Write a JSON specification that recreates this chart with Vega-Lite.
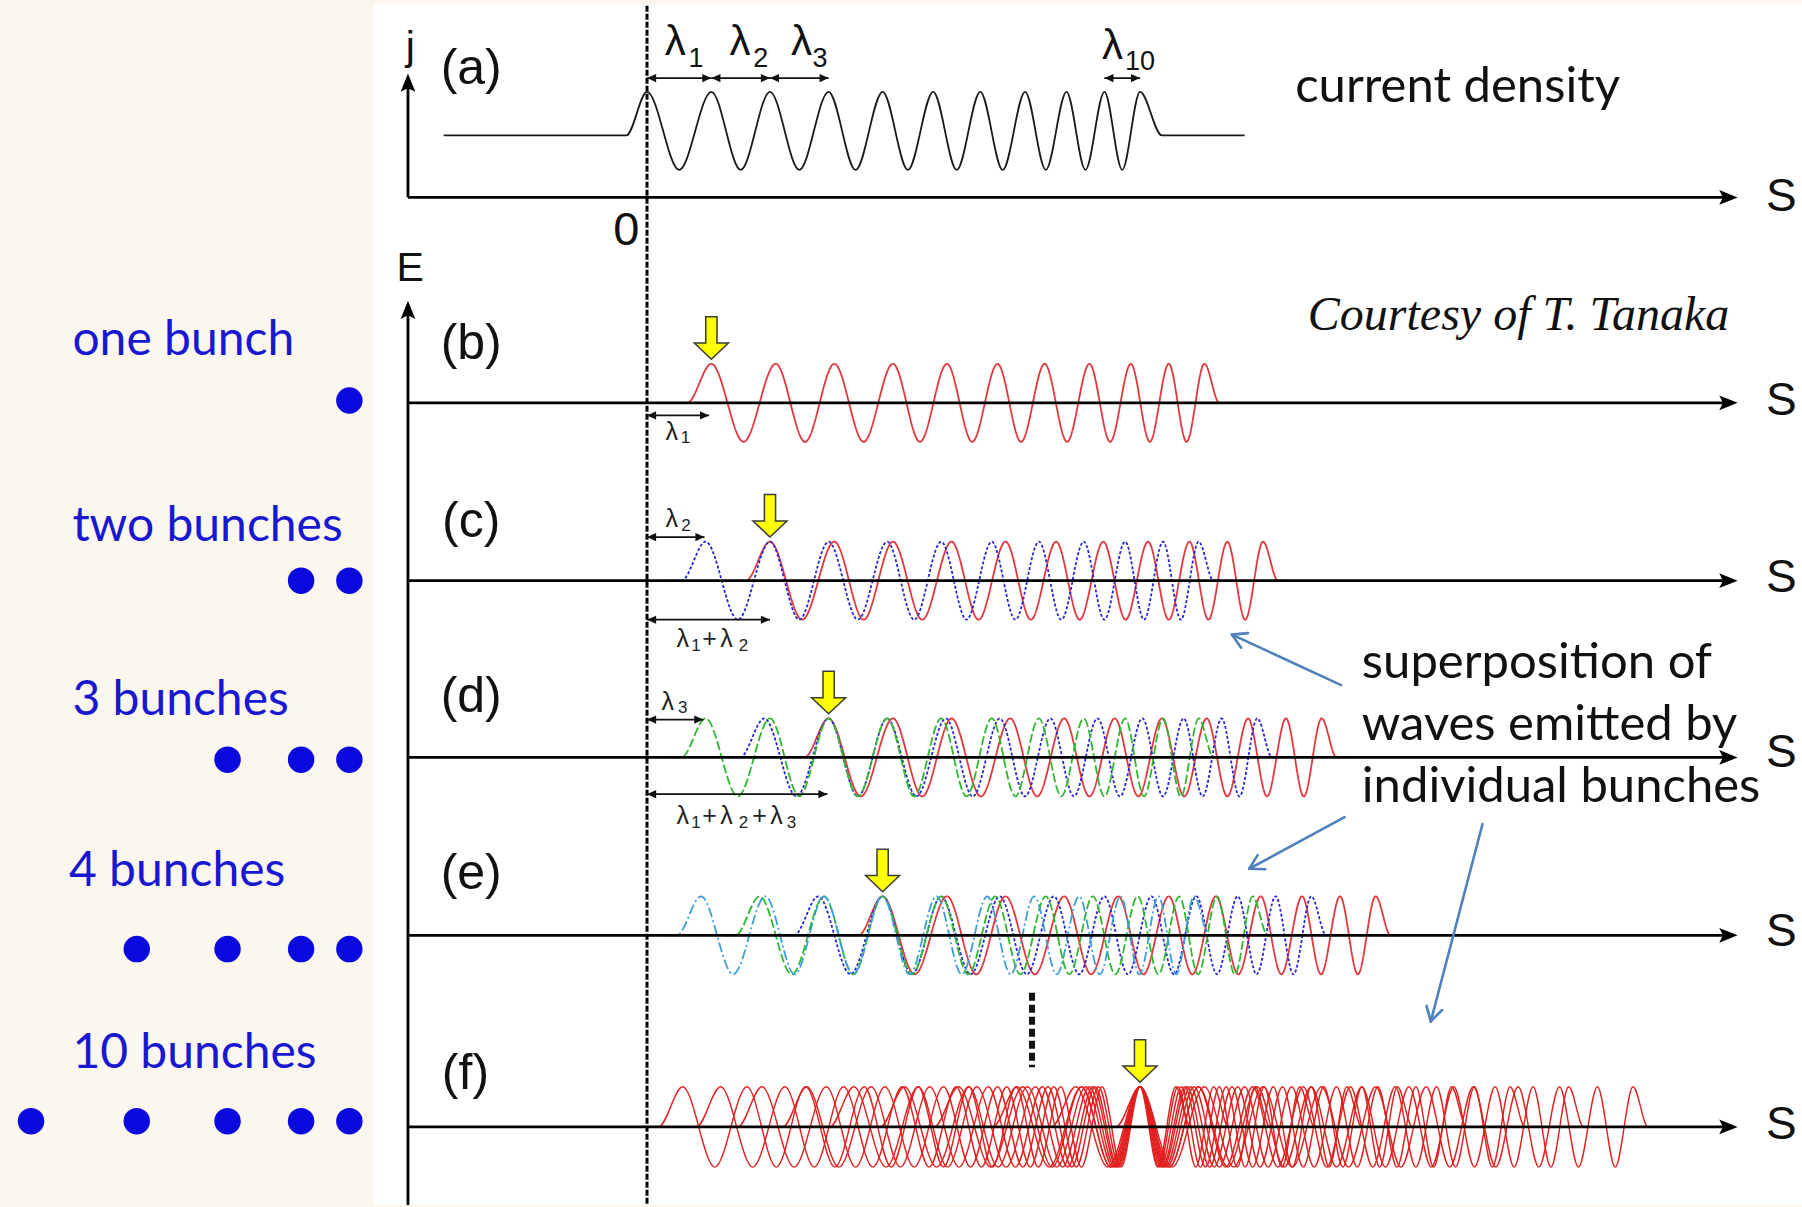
{
"$schema": "https://vega.github.io/schema/vega-lite/v6.json",
"width": 1802, "height": 1207,
"autosize": {"type": "fit", "contains": "padding"},
"padding": 0,
"background": "#fbf7ef",
"config": {"view": {"stroke": null}},
"datasets": {
"bg": [{"s": 325, "s2": 1568, "y": 4, "y2": 1050}],
"dash0": [{"s": 563, "s2": 563, "y": 5, "y2": 1050}],
"cur": [{"s":386,"y":118},{"s":545,"y":118},{"s":563,"y":80},{"s":591,"y":148},{"s":619,"y":80},{"s":644.5,"y":148},{"s":670,"y":80},{"s":695.5,"y":148},{"s":721,"y":80},{"s":744.5,"y":148},{"s":768,"y":80},{"s":790,"y":148},{"s":812,"y":80},{"s":832.5,"y":148},{"s":853,"y":80},{"s":872.5,"y":148},{"s":892,"y":80},{"s":910,"y":148},{"s":928,"y":80},{"s":944.5,"y":148},{"s":961,"y":80},{"s":976.5,"y":148},{"s":992,"y":80},{"s":1011,"y":118},{"s":1083,"y":118}],
"waves": [
{"w":"b1","s":589,"y":351},{"w":"b1","s":598,"y":351},{"w":"b1","s":619,"y":317},{"w":"b1","s":647,"y":385},{"w":"b1","s":675,"y":317},{"w":"b1","s":700.5,"y":385},{"w":"b1","s":726,"y":317},{"w":"b1","s":751.5,"y":385},{"w":"b1","s":777,"y":317},{"w":"b1","s":800.5,"y":385},{"w":"b1","s":824,"y":317},{"w":"b1","s":846,"y":385},{"w":"b1","s":868,"y":317},{"w":"b1","s":888.5,"y":385},{"w":"b1","s":909,"y":317},{"w":"b1","s":928.5,"y":385},{"w":"b1","s":948,"y":317},{"w":"b1","s":966,"y":385},{"w":"b1","s":984,"y":317},{"w":"b1","s":1000.5,"y":385},{"w":"b1","s":1017,"y":317},{"w":"b1","s":1032.5,"y":385},{"w":"b1","s":1048,"y":317},{"w":"b1","s":1061,"y":351},{"w":"b1","s":1070,"y":351},
{"w":"c1","s":640,"y":506},{"w":"c1","s":649,"y":506},{"w":"c1","s":670,"y":472},{"w":"c1","s":698,"y":540},{"w":"c1","s":726,"y":472},{"w":"c1","s":751.5,"y":540},{"w":"c1","s":777,"y":472},{"w":"c1","s":802.5,"y":540},{"w":"c1","s":828,"y":472},{"w":"c1","s":851.5,"y":540},{"w":"c1","s":875,"y":472},{"w":"c1","s":897,"y":540},{"w":"c1","s":919,"y":472},{"w":"c1","s":939.5,"y":540},{"w":"c1","s":960,"y":472},{"w":"c1","s":979.5,"y":540},{"w":"c1","s":999,"y":472},{"w":"c1","s":1017,"y":540},{"w":"c1","s":1035,"y":472},{"w":"c1","s":1051.5,"y":540},{"w":"c1","s":1068,"y":472},{"w":"c1","s":1083.5,"y":540},{"w":"c1","s":1099,"y":472},{"w":"c1","s":1112,"y":506},{"w":"c1","s":1121,"y":506},
{"w":"c2","s":584,"y":506},{"w":"c2","s":593,"y":506},{"w":"c2","s":614,"y":472},{"w":"c2","s":642,"y":540},{"w":"c2","s":670,"y":472},{"w":"c2","s":695.5,"y":540},{"w":"c2","s":721,"y":472},{"w":"c2","s":746.5,"y":540},{"w":"c2","s":772,"y":472},{"w":"c2","s":795.5,"y":540},{"w":"c2","s":819,"y":472},{"w":"c2","s":841,"y":540},{"w":"c2","s":863,"y":472},{"w":"c2","s":883.5,"y":540},{"w":"c2","s":904,"y":472},{"w":"c2","s":923.5,"y":540},{"w":"c2","s":943,"y":472},{"w":"c2","s":961,"y":540},{"w":"c2","s":979,"y":472},{"w":"c2","s":995.5,"y":540},{"w":"c2","s":1012,"y":472},{"w":"c2","s":1027.5,"y":540},{"w":"c2","s":1043,"y":472},{"w":"c2","s":1056,"y":506},{"w":"c2","s":1065,"y":506},
{"w":"d1","s":691,"y":660},{"w":"d1","s":700,"y":660},{"w":"d1","s":721,"y":626},{"w":"d1","s":749,"y":694},{"w":"d1","s":777,"y":626},{"w":"d1","s":802.5,"y":694},{"w":"d1","s":828,"y":626},{"w":"d1","s":853.5,"y":694},{"w":"d1","s":879,"y":626},{"w":"d1","s":902.5,"y":694},{"w":"d1","s":926,"y":626},{"w":"d1","s":948,"y":694},{"w":"d1","s":970,"y":626},{"w":"d1","s":990.5,"y":694},{"w":"d1","s":1011,"y":626},{"w":"d1","s":1030.5,"y":694},{"w":"d1","s":1050,"y":626},{"w":"d1","s":1068,"y":694},{"w":"d1","s":1086,"y":626},{"w":"d1","s":1102.5,"y":694},{"w":"d1","s":1119,"y":626},{"w":"d1","s":1134.5,"y":694},{"w":"d1","s":1150,"y":626},{"w":"d1","s":1163,"y":660},{"w":"d1","s":1172,"y":660},
{"w":"d2","s":635,"y":660},{"w":"d2","s":644,"y":660},{"w":"d2","s":665,"y":626},{"w":"d2","s":693,"y":694},{"w":"d2","s":721,"y":626},{"w":"d2","s":746.5,"y":694},{"w":"d2","s":772,"y":626},{"w":"d2","s":797.5,"y":694},{"w":"d2","s":823,"y":626},{"w":"d2","s":846.5,"y":694},{"w":"d2","s":870,"y":626},{"w":"d2","s":892,"y":694},{"w":"d2","s":914,"y":626},{"w":"d2","s":934.5,"y":694},{"w":"d2","s":955,"y":626},{"w":"d2","s":974.5,"y":694},{"w":"d2","s":994,"y":626},{"w":"d2","s":1012,"y":694},{"w":"d2","s":1030,"y":626},{"w":"d2","s":1046.5,"y":694},{"w":"d2","s":1063,"y":626},{"w":"d2","s":1078.5,"y":694},{"w":"d2","s":1094,"y":626},{"w":"d2","s":1107,"y":660},{"w":"d2","s":1116,"y":660},
{"w":"d3","s":584,"y":660},{"w":"d3","s":593,"y":660},{"w":"d3","s":614,"y":626},{"w":"d3","s":642,"y":694},{"w":"d3","s":670,"y":626},{"w":"d3","s":695.5,"y":694},{"w":"d3","s":721,"y":626},{"w":"d3","s":746.5,"y":694},{"w":"d3","s":772,"y":626},{"w":"d3","s":795.5,"y":694},{"w":"d3","s":819,"y":626},{"w":"d3","s":841,"y":694},{"w":"d3","s":863,"y":626},{"w":"d3","s":883.5,"y":694},{"w":"d3","s":904,"y":626},{"w":"d3","s":923.5,"y":694},{"w":"d3","s":943,"y":626},{"w":"d3","s":961,"y":694},{"w":"d3","s":979,"y":626},{"w":"d3","s":995.5,"y":694},{"w":"d3","s":1012,"y":626},{"w":"d3","s":1027.5,"y":694},{"w":"d3","s":1043,"y":626},{"w":"d3","s":1056,"y":660},{"w":"d3","s":1065,"y":660},
{"w":"e1","s":738,"y":815},{"w":"e1","s":747,"y":815},{"w":"e1","s":768,"y":781},{"w":"e1","s":796,"y":849},{"w":"e1","s":824,"y":781},{"w":"e1","s":849.5,"y":849},{"w":"e1","s":875,"y":781},{"w":"e1","s":900.5,"y":849},{"w":"e1","s":926,"y":781},{"w":"e1","s":949.5,"y":849},{"w":"e1","s":973,"y":781},{"w":"e1","s":995,"y":849},{"w":"e1","s":1017,"y":781},{"w":"e1","s":1037.5,"y":849},{"w":"e1","s":1058,"y":781},{"w":"e1","s":1077.5,"y":849},{"w":"e1","s":1097,"y":781},{"w":"e1","s":1115,"y":849},{"w":"e1","s":1133,"y":781},{"w":"e1","s":1149.5,"y":849},{"w":"e1","s":1166,"y":781},{"w":"e1","s":1181.5,"y":849},{"w":"e1","s":1197,"y":781},{"w":"e1","s":1210,"y":815},{"w":"e1","s":1219,"y":815},
{"w":"e2","s":682,"y":815},{"w":"e2","s":691,"y":815},{"w":"e2","s":712,"y":781},{"w":"e2","s":740,"y":849},{"w":"e2","s":768,"y":781},{"w":"e2","s":793.5,"y":849},{"w":"e2","s":819,"y":781},{"w":"e2","s":844.5,"y":849},{"w":"e2","s":870,"y":781},{"w":"e2","s":893.5,"y":849},{"w":"e2","s":917,"y":781},{"w":"e2","s":939,"y":849},{"w":"e2","s":961,"y":781},{"w":"e2","s":981.5,"y":849},{"w":"e2","s":1002,"y":781},{"w":"e2","s":1021.5,"y":849},{"w":"e2","s":1041,"y":781},{"w":"e2","s":1059,"y":849},{"w":"e2","s":1077,"y":781},{"w":"e2","s":1093.5,"y":849},{"w":"e2","s":1110,"y":781},{"w":"e2","s":1125.5,"y":849},{"w":"e2","s":1141,"y":781},{"w":"e2","s":1154,"y":815},{"w":"e2","s":1163,"y":815},
{"w":"e3","s":631,"y":815},{"w":"e3","s":640,"y":815},{"w":"e3","s":661,"y":781},{"w":"e3","s":689,"y":849},{"w":"e3","s":717,"y":781},{"w":"e3","s":742.5,"y":849},{"w":"e3","s":768,"y":781},{"w":"e3","s":793.5,"y":849},{"w":"e3","s":819,"y":781},{"w":"e3","s":842.5,"y":849},{"w":"e3","s":866,"y":781},{"w":"e3","s":888,"y":849},{"w":"e3","s":910,"y":781},{"w":"e3","s":930.5,"y":849},{"w":"e3","s":951,"y":781},{"w":"e3","s":970.5,"y":849},{"w":"e3","s":990,"y":781},{"w":"e3","s":1008,"y":849},{"w":"e3","s":1026,"y":781},{"w":"e3","s":1042.5,"y":849},{"w":"e3","s":1059,"y":781},{"w":"e3","s":1074.5,"y":849},{"w":"e3","s":1090,"y":781},{"w":"e3","s":1103,"y":815},{"w":"e3","s":1112,"y":815},
{"w":"e4","s":580,"y":815},{"w":"e4","s":589,"y":815},{"w":"e4","s":610,"y":781},{"w":"e4","s":638,"y":849},{"w":"e4","s":666,"y":781},{"w":"e4","s":691.5,"y":849},{"w":"e4","s":717,"y":781},{"w":"e4","s":742.5,"y":849},{"w":"e4","s":768,"y":781},{"w":"e4","s":791.5,"y":849},{"w":"e4","s":815,"y":781},{"w":"e4","s":837,"y":849},{"w":"e4","s":859,"y":781},{"w":"e4","s":879.5,"y":849},{"w":"e4","s":900,"y":781},{"w":"e4","s":919.5,"y":849},{"w":"e4","s":939,"y":781},{"w":"e4","s":957,"y":849},{"w":"e4","s":975,"y":781},{"w":"e4","s":991.5,"y":849},{"w":"e4","s":1008,"y":781},{"w":"e4","s":1023.5,"y":849},{"w":"e4","s":1039,"y":781},{"w":"e4","s":1052,"y":815},{"w":"e4","s":1061,"y":815}
],
"wf": [
{"w":"f0","s":962,"y":982},{"w":"f0","s":971,"y":982},{"w":"f0","s":992,"y":947},{"w":"f0","s":1020,"y":1017},{"w":"f0","s":1048,"y":947},{"w":"f0","s":1073.5,"y":1017},{"w":"f0","s":1099,"y":947},{"w":"f0","s":1124.5,"y":1017},{"w":"f0","s":1150,"y":947},{"w":"f0","s":1173.5,"y":1017},{"w":"f0","s":1197,"y":947},{"w":"f0","s":1219,"y":1017},{"w":"f0","s":1241,"y":947},{"w":"f0","s":1261.5,"y":1017},{"w":"f0","s":1282,"y":947},{"w":"f0","s":1301.5,"y":1017},{"w":"f0","s":1321,"y":947},{"w":"f0","s":1339,"y":1017},{"w":"f0","s":1357,"y":947},{"w":"f0","s":1373.5,"y":1017},{"w":"f0","s":1390,"y":947},{"w":"f0","s":1405.5,"y":1017},{"w":"f0","s":1421,"y":947},{"w":"f0","s":1434,"y":982},{"w":"f0","s":1443,"y":982},
{"w":"f1","s":906,"y":982},{"w":"f1","s":915,"y":982},{"w":"f1","s":936,"y":947},{"w":"f1","s":964,"y":1017},{"w":"f1","s":992,"y":947},{"w":"f1","s":1017.5,"y":1017},{"w":"f1","s":1043,"y":947},{"w":"f1","s":1068.5,"y":1017},{"w":"f1","s":1094,"y":947},{"w":"f1","s":1117.5,"y":1017},{"w":"f1","s":1141,"y":947},{"w":"f1","s":1163,"y":1017},{"w":"f1","s":1185,"y":947},{"w":"f1","s":1205.5,"y":1017},{"w":"f1","s":1226,"y":947},{"w":"f1","s":1245.5,"y":1017},{"w":"f1","s":1265,"y":947},{"w":"f1","s":1283,"y":1017},{"w":"f1","s":1301,"y":947},{"w":"f1","s":1317.5,"y":1017},{"w":"f1","s":1334,"y":947},{"w":"f1","s":1349.5,"y":1017},{"w":"f1","s":1365,"y":947},{"w":"f1","s":1378,"y":982},{"w":"f1","s":1387,"y":982},
{"w":"f2","s":855,"y":982},{"w":"f2","s":864,"y":982},{"w":"f2","s":885,"y":947},{"w":"f2","s":913,"y":1017},{"w":"f2","s":941,"y":947},{"w":"f2","s":966.5,"y":1017},{"w":"f2","s":992,"y":947},{"w":"f2","s":1017.5,"y":1017},{"w":"f2","s":1043,"y":947},{"w":"f2","s":1066.5,"y":1017},{"w":"f2","s":1090,"y":947},{"w":"f2","s":1112,"y":1017},{"w":"f2","s":1134,"y":947},{"w":"f2","s":1154.5,"y":1017},{"w":"f2","s":1175,"y":947},{"w":"f2","s":1194.5,"y":1017},{"w":"f2","s":1214,"y":947},{"w":"f2","s":1232,"y":1017},{"w":"f2","s":1250,"y":947},{"w":"f2","s":1266.5,"y":1017},{"w":"f2","s":1283,"y":947},{"w":"f2","s":1298.5,"y":1017},{"w":"f2","s":1314,"y":947},{"w":"f2","s":1327,"y":982},{"w":"f2","s":1336,"y":982},
{"w":"f3","s":804,"y":982},{"w":"f3","s":813,"y":982},{"w":"f3","s":834,"y":947},{"w":"f3","s":862,"y":1017},{"w":"f3","s":890,"y":947},{"w":"f3","s":915.5,"y":1017},{"w":"f3","s":941,"y":947},{"w":"f3","s":966.5,"y":1017},{"w":"f3","s":992,"y":947},{"w":"f3","s":1015.5,"y":1017},{"w":"f3","s":1039,"y":947},{"w":"f3","s":1061,"y":1017},{"w":"f3","s":1083,"y":947},{"w":"f3","s":1103.5,"y":1017},{"w":"f3","s":1124,"y":947},{"w":"f3","s":1143.5,"y":1017},{"w":"f3","s":1163,"y":947},{"w":"f3","s":1181,"y":1017},{"w":"f3","s":1199,"y":947},{"w":"f3","s":1215.5,"y":1017},{"w":"f3","s":1232,"y":947},{"w":"f3","s":1247.5,"y":1017},{"w":"f3","s":1263,"y":947},{"w":"f3","s":1276,"y":982},{"w":"f3","s":1285,"y":982},
{"w":"f4","s":757,"y":982},{"w":"f4","s":766,"y":982},{"w":"f4","s":787,"y":947},{"w":"f4","s":815,"y":1017},{"w":"f4","s":843,"y":947},{"w":"f4","s":868.5,"y":1017},{"w":"f4","s":894,"y":947},{"w":"f4","s":919.5,"y":1017},{"w":"f4","s":945,"y":947},{"w":"f4","s":968.5,"y":1017},{"w":"f4","s":992,"y":947},{"w":"f4","s":1014,"y":1017},{"w":"f4","s":1036,"y":947},{"w":"f4","s":1056.5,"y":1017},{"w":"f4","s":1077,"y":947},{"w":"f4","s":1096.5,"y":1017},{"w":"f4","s":1116,"y":947},{"w":"f4","s":1134,"y":1017},{"w":"f4","s":1152,"y":947},{"w":"f4","s":1168.5,"y":1017},{"w":"f4","s":1185,"y":947},{"w":"f4","s":1200.5,"y":1017},{"w":"f4","s":1216,"y":947},{"w":"f4","s":1229,"y":982},{"w":"f4","s":1238,"y":982},
{"w":"f5","s":713,"y":982},{"w":"f5","s":722,"y":982},{"w":"f5","s":743,"y":947},{"w":"f5","s":771,"y":1017},{"w":"f5","s":799,"y":947},{"w":"f5","s":824.5,"y":1017},{"w":"f5","s":850,"y":947},{"w":"f5","s":875.5,"y":1017},{"w":"f5","s":901,"y":947},{"w":"f5","s":924.5,"y":1017},{"w":"f5","s":948,"y":947},{"w":"f5","s":970,"y":1017},{"w":"f5","s":992,"y":947},{"w":"f5","s":1012.5,"y":1017},{"w":"f5","s":1033,"y":947},{"w":"f5","s":1052.5,"y":1017},{"w":"f5","s":1072,"y":947},{"w":"f5","s":1090,"y":1017},{"w":"f5","s":1108,"y":947},{"w":"f5","s":1124.5,"y":1017},{"w":"f5","s":1141,"y":947},{"w":"f5","s":1156.5,"y":1017},{"w":"f5","s":1172,"y":947},{"w":"f5","s":1185,"y":982},{"w":"f5","s":1194,"y":982},
{"w":"f6","s":672,"y":982},{"w":"f6","s":681,"y":982},{"w":"f6","s":702,"y":947},{"w":"f6","s":730,"y":1017},{"w":"f6","s":758,"y":947},{"w":"f6","s":783.5,"y":1017},{"w":"f6","s":809,"y":947},{"w":"f6","s":834.5,"y":1017},{"w":"f6","s":860,"y":947},{"w":"f6","s":883.5,"y":1017},{"w":"f6","s":907,"y":947},{"w":"f6","s":929,"y":1017},{"w":"f6","s":951,"y":947},{"w":"f6","s":971.5,"y":1017},{"w":"f6","s":992,"y":947},{"w":"f6","s":1011.5,"y":1017},{"w":"f6","s":1031,"y":947},{"w":"f6","s":1049,"y":1017},{"w":"f6","s":1067,"y":947},{"w":"f6","s":1083.5,"y":1017},{"w":"f6","s":1100,"y":947},{"w":"f6","s":1115.5,"y":1017},{"w":"f6","s":1131,"y":947},{"w":"f6","s":1144,"y":982},{"w":"f6","s":1153,"y":982},
{"w":"f7","s":633,"y":982},{"w":"f7","s":642,"y":982},{"w":"f7","s":663,"y":947},{"w":"f7","s":691,"y":1017},{"w":"f7","s":719,"y":947},{"w":"f7","s":744.5,"y":1017},{"w":"f7","s":770,"y":947},{"w":"f7","s":795.5,"y":1017},{"w":"f7","s":821,"y":947},{"w":"f7","s":844.5,"y":1017},{"w":"f7","s":868,"y":947},{"w":"f7","s":890,"y":1017},{"w":"f7","s":912,"y":947},{"w":"f7","s":932.5,"y":1017},{"w":"f7","s":953,"y":947},{"w":"f7","s":972.5,"y":1017},{"w":"f7","s":992,"y":947},{"w":"f7","s":1010,"y":1017},{"w":"f7","s":1028,"y":947},{"w":"f7","s":1044.5,"y":1017},{"w":"f7","s":1061,"y":947},{"w":"f7","s":1076.5,"y":1017},{"w":"f7","s":1092,"y":947},{"w":"f7","s":1105,"y":982},{"w":"f7","s":1114,"y":982},
{"w":"f8","s":597,"y":982},{"w":"f8","s":606,"y":982},{"w":"f8","s":627,"y":947},{"w":"f8","s":655,"y":1017},{"w":"f8","s":683,"y":947},{"w":"f8","s":708.5,"y":1017},{"w":"f8","s":734,"y":947},{"w":"f8","s":759.5,"y":1017},{"w":"f8","s":785,"y":947},{"w":"f8","s":808.5,"y":1017},{"w":"f8","s":832,"y":947},{"w":"f8","s":854,"y":1017},{"w":"f8","s":876,"y":947},{"w":"f8","s":896.5,"y":1017},{"w":"f8","s":917,"y":947},{"w":"f8","s":936.5,"y":1017},{"w":"f8","s":956,"y":947},{"w":"f8","s":974,"y":1017},{"w":"f8","s":992,"y":947},{"w":"f8","s":1008.5,"y":1017},{"w":"f8","s":1025,"y":947},{"w":"f8","s":1040.5,"y":1017},{"w":"f8","s":1056,"y":947},{"w":"f8","s":1069,"y":982},{"w":"f8","s":1078,"y":982},
{"w":"f9","s":564,"y":982},{"w":"f9","s":573,"y":982},{"w":"f9","s":594,"y":947},{"w":"f9","s":622,"y":1017},{"w":"f9","s":650,"y":947},{"w":"f9","s":675.5,"y":1017},{"w":"f9","s":701,"y":947},{"w":"f9","s":726.5,"y":1017},{"w":"f9","s":752,"y":947},{"w":"f9","s":775.5,"y":1017},{"w":"f9","s":799,"y":947},{"w":"f9","s":821,"y":1017},{"w":"f9","s":843,"y":947},{"w":"f9","s":863.5,"y":1017},{"w":"f9","s":884,"y":947},{"w":"f9","s":903.5,"y":1017},{"w":"f9","s":923,"y":947},{"w":"f9","s":941,"y":1017},{"w":"f9","s":959,"y":947},{"w":"f9","s":975.5,"y":1017},{"w":"f9","s":992,"y":947},{"w":"f9","s":1007.5,"y":1017},{"w":"f9","s":1023,"y":947},{"w":"f9","s":1036,"y":982},{"w":"f9","s":1045,"y":982}
],
"haxes": [{"s":355,"s2":1500,"y":172,"y2":172},{"s":355,"s2":1500,"y":351,"y2":351},{"s":355,"s2":1500,"y":506,"y2":506},{"s":355,"s2":1500,"y":660,"y2":660},{"s":355,"s2":1500,"y":815,"y2":815},{"s":355,"s2":1500,"y":982,"y2":982}],
"hheads": [{"s":1512,"y":172},{"s":1512,"y":351},{"s":1512,"y":506},{"s":1512,"y":660},{"s":1512,"y":815},{"s":1512,"y":982}],
"vaxes": [{"s":355,"s2":355,"y":172,"y2":75},{"s":355,"s2":355,"y":1050,"y2":272}],
"vheads": [{"s":355,"y":64},{"s":355,"y":262}],
"lam": [{"s":563,"s2":619,"y":68,"y2":68},{"s":619,"s2":670,"y":68,"y2":68},{"s":670,"s2":721,"y":68,"y2":68},{"s":961,"s2":992,"y":68,"y2":68},{"s":563,"s2":617,"y":362,"y2":362},{"s":563,"s2":613,"y":468,"y2":468},{"s":563,"s2":670,"y":540,"y2":540},{"s":563,"s2":612,"y":627,"y2":627},{"s":563,"s2":720,"y":692,"y2":692}],
"yarrows": [{"s":619,"y":313},{"s":670,"y":468},{"s":721,"y":622},{"s":768,"y":777},{"s":992,"y":943}],
"blue": [{"s":1167,"y":597,"s2":1072,"y2":553},{"s":1080,"y":564.4,"s2":1072,"y2":553},{"s":1085.9,"y":551.7,"s2":1072,"y2":553},{"s":1170,"y":712,"s2":1087,"y2":757},{"s":1101,"y":757.4,"s2":1087,"y2":757},{"s":1094.3,"y":745.1,"s2":1087,"y2":757},{"s":1290,"y":718,"s2":1245,"y2":890},{"s":1254.8,"y":880.1,"s2":1245,"y2":890},{"s":1241.3,"y":876.5,"s2":1245,"y2":890}],
"vdots": [{"s":898,"s2":898,"y":865,"y2":930}],
"dots": [{"s":304,"y":349},{"s":262,"y":506},{"s":304,"y":506},{"s":198,"y":662},{"s":262,"y":662},{"s":304,"y":662},{"s":119,"y":827},{"s":198,"y":827},{"s":262,"y":827},{"s":304,"y":827},{"s":27,"y":977},{"s":119,"y":977},{"s":198,"y":977},{"s":262,"y":977},{"s":304,"y":977}],
"paren": [{"s":410,"y":60,"t":"(a)"},{"s":410,"y":300,"t":"(b)"},{"s":410,"y":455,"t":"(c)"},{"s":410,"y":607,"t":"(d)"},{"s":410,"y":762,"t":"(e)"},{"s":405,"y":936,"t":"(f)"}],
"sl": [{"s":1550,"y":172,"t":"S"},{"s":1550,"y":349,"t":"S"},{"s":1550,"y":504,"t":"S"},{"s":1550,"y":656,"t":"S"},{"s":1550,"y":812,"t":"S"},{"s":1550,"y":980,"t":"S"}],
"je": [{"s":357,"y":42,"t":"j"},{"s":357,"y":234,"t":"E"}],
"zero": [{"s":545,"y":201,"t":"0"}],
"lbig": [{"s":587.5,"y":37,"t":"λ"},{"s":644,"y":37,"t":"λ"},{"s":697.5,"y":37,"t":"λ"},{"s":968,"y":40,"t":"λ"}],
"sbig": [{"s":605.6,"y":51,"t":"1"},{"s":662,"y":51,"t":"2"},{"s":713.6,"y":51,"t":"3"},{"s":992,"y":54,"t":"10"}],
"lsmall": [{"s":584.5,"y":376,"t":"λ"},{"s":584.5,"y":452,"t":"λ"},{"s":594,"y":557,"t":"λ"},{"s":617.4,"y":557,"t":"+"},{"s":632.2,"y":557,"t":"λ"},{"s":581,"y":612,"t":"λ"},{"s":594,"y":711,"t":"λ"},{"s":617.4,"y":711,"t":"+"},{"s":632.2,"y":711,"t":"λ"},{"s":661,"y":711,"t":"+"},{"s":675.7,"y":711,"t":"λ"}],
"ssmall": [{"s":596.5,"y":382,"t":"1"},{"s":597,"y":458,"t":"2"},{"s":605.7,"y":563,"t":"1"},{"s":647,"y":563,"t":"2"},{"s":594,"y":617,"t":"3"},{"s":605.7,"y":717,"t":"1"},{"s":647,"y":717,"t":"2"},{"s":688.8,"y":717,"t":"3"}],
"notes": [{"s":1127,"y":76,"t":"current density"},{"s":1185,"y":578,"t":"superposition of"},{"s":1185,"y":632,"t":"waves emitted by"},{"s":1185,"y":686,"t":"individual bunches"}],
"bl": [{"s":63,"y":297,"t":"one bunch"},{"s":63,"y":459,"t":"two bunches"},{"s":63,"y":611,"t":"3 bunches"},{"s":60,"y":760,"t":"4 bunches"},{"s":63,"y":918,"t":"10 bunches"}],
"court": [{"s":1138,"y":275,"t":"Courtesy of T. Tanaka"}]
},
"encoding": {
"x": {"field": "s", "type": "quantitative", "scale": {"domain": [0, 1568], "nice": false, "zero": false}, "axis": null},
"y": {"field": "y", "type": "quantitative", "scale": {"domain": [0, 1050], "nice": false, "zero": false, "reverse": true}, "axis": null}
},
"layer": [
{"data": {"name": "bg"}, "mark": {"type": "rect", "fill": "#ffffff"}, "encoding": {"x2": {"field": "s2"}, "y2": {"field": "y2"}}},
{"data": {"name": "dash0"}, "mark": {"type": "rule", "stroke": "#000000", "strokeWidth": 3, "strokeDash": [6, 2]}, "encoding": {"x2": {"field": "s2"}, "y2": {"field": "y2"}}},
{"data": {"name": "cur"}, "mark": {"type": "line", "interpolate": "monotone", "stroke": "#1a1a1a", "strokeWidth": 1.8}, "encoding": {}},
{"data": {"name": "waves"}, "mark": {"type": "line", "interpolate": "monotone", "strokeWidth": 1.8},
 "encoding": {"detail": {"field": "w"},
  "color": {"field": "w", "type": "nominal", "legend": null, "scale": {"domain": ["b1","c1","c2","d1","d2","d3","e1","e2","e3","e4"], "range": ["#e2383d","#e2383d","#2828d8","#e2383d","#2828d8","#2eb82e","#e2383d","#2828d8","#2eb82e","#3a9fd8"]}},
  "strokeDash": {"field": "w", "type": "nominal", "legend": null, "scale": {"domain": ["b1","c1","c2","d1","d2","d3","e1","e2","e3","e4"], "range": [[1,0],[1,0],[3,2],[1,0],[3,2],[9,3],[1,0],[3,2],[9,3],[10,3,2,3]]}}}},
{"data": {"name": "wf"}, "mark": {"type": "line", "interpolate": "monotone", "stroke": "#e0201e", "strokeWidth": 1.4}, "encoding": {"detail": {"field": "w"}}},
{"data": {"name": "haxes"}, "mark": {"type": "rule", "stroke": "#000000", "strokeWidth": 2.8}, "encoding": {"x2": {"field": "s2"}, "y2": {"field": "y2"}}},
{"data": {"name": "vaxes"}, "mark": {"type": "rule", "stroke": "#000000", "strokeWidth": 2.8}, "encoding": {"x2": {"field": "s2"}, "y2": {"field": "y2"}}},
{"data": {"name": "hheads"}, "mark": {"type": "point", "shape": "M0,0L-1,-0.4L-0.8,0L-1,0.4Z", "filled": true, "fill": "#000000", "strokeWidth": 0, "size": 1350, "angle": 0, "opacity": 1}},
{"data": {"name": "vheads"}, "mark": {"type": "point", "shape": "M0,0L-1,-0.4L-0.8,0L-1,0.4Z", "filled": true, "fill": "#000000", "strokeWidth": 0, "size": 1350, "angle": 270, "opacity": 1}},
{"data": {"name": "lam"}, "mark": {"type": "rule", "stroke": "#111111", "strokeWidth": 1.8}, "encoding": {"x2": {"field": "s2"}, "y2": {"field": "y2"}}},
{"data": {"name": "lam"}, "mark": {"type": "point", "shape": "M0,0L-1,-0.45L-1,0.45Z", "filled": true, "fill": "#111111", "strokeWidth": 0, "size": 330, "angle": 0, "opacity": 1}, "encoding": {"x": {"field": "s2", "type": "quantitative"}}},
{"data": {"name": "lam"}, "mark": {"type": "point", "shape": "M0,0L-1,-0.45L-1,0.45Z", "filled": true, "fill": "#111111", "strokeWidth": 0, "size": 330, "angle": 180, "opacity": 1}},
{"data": {"name": "yarrows"}, "mark": {"type": "point", "shape": "M0,0L-1,-0.95L-0.33,-0.95L-0.33,-2.5L0.33,-2.5L0.33,-0.95L1,-0.95Z", "filled": true, "fill": "#ffff00", "stroke": "#3a3a3a", "strokeWidth": 1.5, "size": 1156, "opacity": 1}},
{"data": {"name": "blue"}, "mark": {"type": "rule", "stroke": "#4f81bd", "strokeWidth": 2.6, "strokeCap": "round"}, "encoding": {"x2": {"field": "s2"}, "y2": {"field": "y2"}}},
{"data": {"name": "vdots"}, "mark": {"type": "rule", "stroke": "#111111", "strokeWidth": 6, "strokeDash": [8, 4]}, "encoding": {"x2": {"field": "s2"}, "y2": {"field": "y2"}}},
{"data": {"name": "dots"}, "mark": {"type": "point", "shape": "circle", "filled": true, "fill": "#0a0ade", "strokeWidth": 0, "size": 700, "opacity": 1}},
{"data": {"name": "paren"}, "mark": {"type": "text", "font": "Liberation Sans", "fontSize": 50, "align": "center", "baseline": "middle", "fill": "#111111"}, "encoding": {"text": {"field": "t"}}},
{"data": {"name": "sl"}, "mark": {"type": "text", "font": "Liberation Sans", "fontSize": 46, "align": "center", "baseline": "middle", "fill": "#111111"}, "encoding": {"text": {"field": "t"}}},
{"data": {"name": "je"}, "mark": {"type": "text", "font": "Liberation Sans", "fontSize": 41, "align": "center", "baseline": "middle", "fill": "#111111"}, "encoding": {"text": {"field": "t"}}},
{"data": {"name": "zero"}, "mark": {"type": "text", "font": "Liberation Sans", "fontSize": 47, "align": "center", "baseline": "middle", "fill": "#111111"}, "encoding": {"text": {"field": "t"}}},
{"data": {"name": "lbig"}, "mark": {"type": "text", "font": "Liberation Sans", "fontSize": 42, "align": "center", "baseline": "middle", "fill": "#111111"}, "encoding": {"text": {"field": "t"}}},
{"data": {"name": "sbig"}, "mark": {"type": "text", "font": "Liberation Sans", "fontSize": 27, "align": "center", "baseline": "middle", "fill": "#111111"}, "encoding": {"text": {"field": "t"}}},
{"data": {"name": "lsmall"}, "mark": {"type": "text", "font": "Liberation Sans", "fontSize": 25, "align": "center", "baseline": "middle", "fill": "#222222"}, "encoding": {"text": {"field": "t"}}},
{"data": {"name": "ssmall"}, "mark": {"type": "text", "font": "Liberation Sans", "fontSize": 17, "align": "center", "baseline": "middle", "fill": "#222222"}, "encoding": {"text": {"field": "t"}}},
{"data": {"name": "notes"}, "mark": {"type": "text", "font": "Lato", "fontSize": 49, "align": "left", "baseline": "middle", "fill": "#111111"}, "encoding": {"text": {"field": "t"}}},
{"data": {"name": "bl"}, "mark": {"type": "text", "font": "Lato", "fontSize": 48, "align": "left", "baseline": "middle", "fill": "#1818d0"}, "encoding": {"text": {"field": "t"}}},
{"data": {"name": "court"}, "mark": {"type": "text", "font": "Liberation Serif", "fontStyle": "italic", "fontSize": 48, "align": "left", "baseline": "middle", "fill": "#111111"}, "encoding": {"text": {"field": "t"}}}
]
}
